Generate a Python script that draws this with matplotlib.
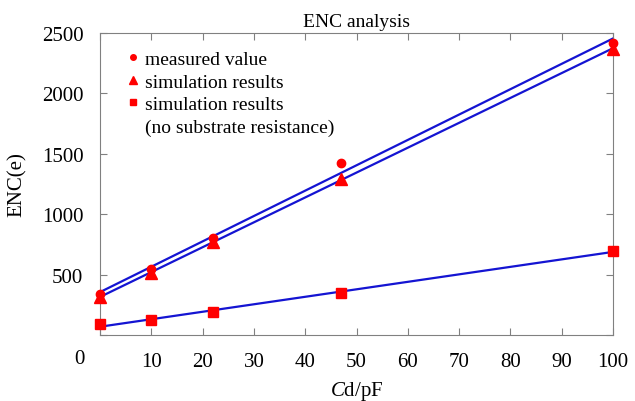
import matplotlib
matplotlib.use('Agg')
import matplotlib.pyplot as plt
from matplotlib.lines import Line2D
import numpy as np

plt.rcParams['font.family'] = ['Liberation Serif', 'DejaVu Serif']
plt.rcParams['mathtext.fontset'] = 'custom'
plt.rcParams['mathtext.it'] = 'Liberation Serif:italic'
plt.rcParams['mathtext.rm'] = 'Liberation Serif'

# Detector capacitance (pF)
cd = [0, 10, 22, 47, 100]
# ENC values (e)
measured = [340, 547, 800, 1426, 2421]
sim = [315, 514, 771, 1290, 2371]
sim_no_sub = [91, 124, 191, 348, 697]

xticks = [0, 10, 20, 30, 40, 50, 60, 70, 80, 90, 100]
yticks = [500, 1000, 1500, 2000, 2500]

red = '#ff0000'
blue = '#1414d2'
grey = '#808080'

fig = plt.figure(figsize=(6.35, 4.02), dpi=100)
ax = fig.add_axes([0.1575, 0.1642, 0.8079, 0.7512])

# Linear fits through each series
xfit = np.array([0, 100])
for y in (measured, sim, sim_no_sub):
    k, b = np.polyfit(cd, y, 1)
    ax.plot(xfit, k * xfit + b, color=blue, lw=1.6, zorder=2)

ax.plot(cd, measured, 'o', color=red, ms=6, clip_on=False, zorder=3)
ax.plot(cd, sim, '^', color=red, ms=9, clip_on=False, zorder=3)
ax.plot(cd, sim_no_sub, 's', color=red, ms=7, clip_on=False, zorder=3)

ax.set_xlim(0, 100)
ax.set_ylim(0, 2500)
ax.set_xticks(xticks)
ax.set_xticklabels([''] + [str(t) for t in xticks[1:]])
ax.set_yticks([0] + yticks)
ax.set_yticklabels([''] + [str(t) for t in yticks])
# the "0" sits left of the corner in the original
ax.text(-4, -0.048, '0', transform=ax.get_xaxis_transform(), ha='center', va='top', fontsize=15)

ax.tick_params(direction='in', top=True, right=True, length=5, color=grey,
               labelsize=15, pad=12)
for s in ax.spines.values():
    s.set_color(grey)

ax.set_title('ENC analysis', fontsize=14, pad=5)
ax.set_ylabel('ENC(e)', fontsize=15, labelpad=11)
ax.set_xlabel(r'$C$d/pF', fontsize=15, labelpad=6)

handles = [Line2D([], [], ls='', marker='o', color=red, ms=4),
           Line2D([], [], ls='', marker='^', color=red, ms=6),
           Line2D([], [], ls='', marker='s', color=red, ms=5),
           Line2D([], [], ls='')]
labels = ['measured value', 'simulation results', 'simulation results',
          '(no substrate resistance)']
ax.legend(handles, labels, loc='upper left', frameon=False, fontsize=14,
          handlelength=0.6, handletextpad=0.3, labelspacing=0.25,
          bbox_to_anchor=(0.019, 1.0))

fig.savefig('out.png', dpi=100)
